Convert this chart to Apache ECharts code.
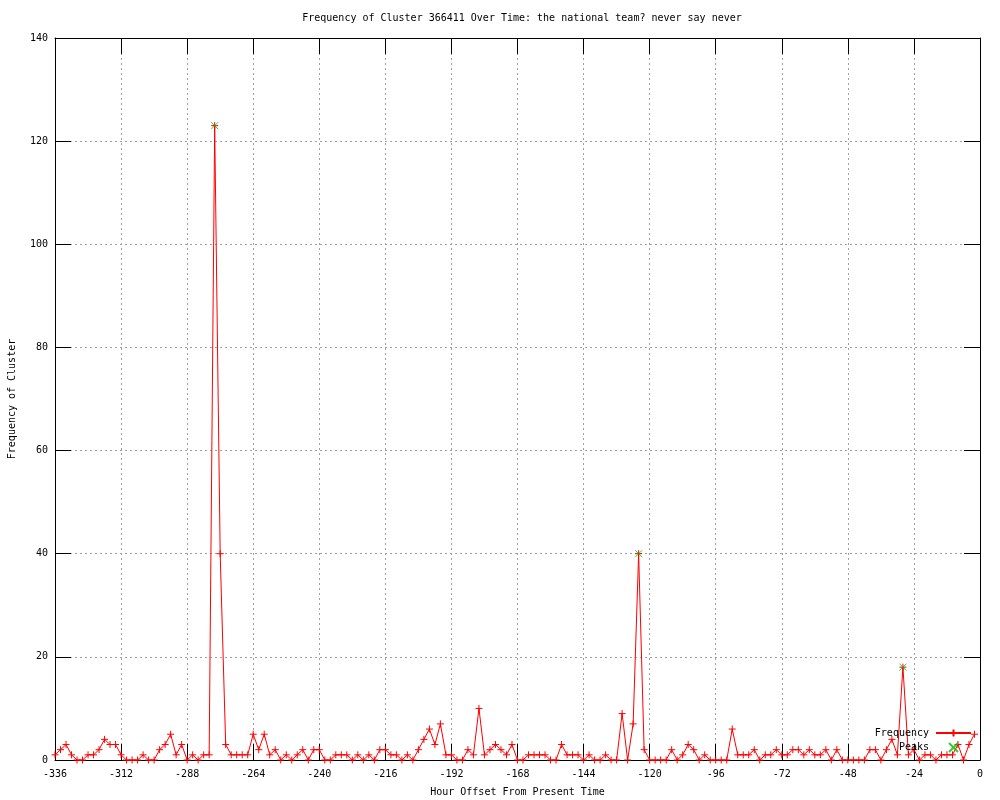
<!DOCTYPE html>
<html>
<head>
<meta charset="utf-8">
<script src="https://cdn.jsdelivr.net/npm/echarts@6/dist/echarts.min.js"></script>
<style>html,body{margin:0;padding:0;background:#fff;}#c{width:1000px;height:800px;}</style>
</head>
<body>
<div id="c"></div>
<script>
const hours = [
-336,-334,-332,-330,-328,-326,-324,-322,-320,-318,
-316,-314,-312,-310,-308,-306,-304,-302,-300,-298,
-296,-294,-292,-290,-288,-286,-284,-282,-280,-278,
-276,-274,-272,-270,-268,-266,-264,-262,-260,-258,
-256,-254,-252,-250,-248,-246,-244,-242,-240,-238,
-236,-234,-232,-230,-228,-226,-224,-222,-220,-218,
-216,-214,-212,-210,-208,-206,-204,-202,-200,-198,
-196,-194,-192,-190,-188,-186,-184,-182,-180,-178,
-176,-174,-172,-170,-168,-166,-164,-162,-160,-158,
-156,-154,-152,-150,-148,-146,-144,-142,-140,-138,
-136,-134,-132,-130,-128,-126,-124,-122,-120,-118,
-116,-114,-112,-110,-108,-106,-104,-102,-100,-98,
-96,-94,-92,-90,-88,-86,-84,-82,-80,-78,
-76,-74,-72,-70,-68,-66,-64,-62,-60,-58,
-56,-54,-52,-50,-48,-46,-44,-42,-40,-38,
-36,-34,-32,-30,-28,-26,-24,-22,-20,-18,
-16,-14,-12,-10,-8,-6,-4,-2];
const frequency = [
1,2,3,1,0,0,1,1,2,4,
3,3,1,0,0,0,1,0,0,2,
3,5,1,3,0,1,0,1,1,123,
40,3,1,1,1,1,5,2,5,1,
2,0,1,0,1,2,0,2,2,0,
0,1,1,1,0,1,0,1,0,2,
2,1,1,0,1,0,2,4,6,3,
7,1,1,0,0,2,1,10,1,2,
3,2,1,3,0,0,1,1,1,1,
0,0,3,1,1,1,0,1,0,0,
1,0,0,9,0,7,40,2,0,0,
0,0,2,0,1,3,2,0,1,0,
0,0,0,6,1,1,1,2,0,1,
1,2,1,1,2,2,1,2,1,1,
2,0,2,0,0,0,0,0,2,2,
0,2,4,1,18,1,2,0,1,1,
0,1,1,1,3,0,3,5];
const peakHours = [-278, -124, -28];
const peakValues = [123, 40, 18];
const xTicks = [-336,-312,-288,-264,-240,-216,-192,-168,-144,-120,-96,-72,-48,-24,0];
const yTicks = [0,20,40,60,80,100,120,140];

const FONT = 'DejaVu Sans Mono';
const plusSym = 'path://M5,0L5,10M0,5L10,5';
const xSym = 'path://M0,0L10,10M10,0L0,10';

const chart = echarts.init(document.getElementById('c'), null, {renderer: 'canvas'});
const gridLine = {show: true, lineStyle: {color: '#a0a0a0', width: 1, type: [2, 3]}};
const tick = {show: true, inside: true, length: 16, lineStyle: {color: '#000', width: 1}};
const axLine = {show: true, onZero: false, lineStyle: {color: '#000', width: 1}};
const lbl = {color: '#000', fontFamily: FONT, fontSize: 10};

chart.setOption({
  animation: false,
  backgroundColor: '#fff',
  title: {
    text: 'Frequency of Cluster 366411 Over Time: the national team? never say never',
    left: 517, top: 8, textAlign: 'center',
    textStyle: {color: '#000', fontFamily: FONT, fontSize: 10, fontWeight: 'normal'}
  },
  grid: {left: 55, right: 20, top: 38, bottom: 40, containLabel: false, outerBoundsMode: 'none'},
  legend: {
    orient: 'vertical', align: 'right', right: 28, top: 728, padding: 0,
    itemWidth: 35, itemHeight: 9, itemGap: 4,
    textStyle: {color: '#000', fontFamily: FONT, fontSize: 10, padding: [0, 2, 0, 0]},
    data: ['Frequency', 'Peaks'],
    selectedMode: false
  },
  xAxis: [{
    type: 'value', min: -336, max: 0, interval: 24, position: 'bottom',
    axisLine: axLine, axisTick: tick, splitLine: gridLine,
    axisLabel: Object.assign({margin: 9, formatter: v => xTicks.includes(v) ? String(v) : ''}, lbl),
    name: 'Hour Offset From Present Time', nameLocation: 'middle', nameGap: 27,
    nameTextStyle: {color: '#000', fontFamily: FONT, fontSize: 10}
  }, {
    type: 'value', min: -336, max: 0, interval: 24, position: 'top',
    axisLine: axLine, axisTick: tick, splitLine: {show: false}, axisLabel: {show: false}
  }],
  yAxis: [{
    type: 'value', min: 0, max: 140, interval: 20, position: 'left',
    axisLine: axLine, axisTick: tick, splitLine: gridLine,
    axisLabel: Object.assign({margin: 7, formatter: v => yTicks.includes(v) ? String(v) : ''}, lbl),
    name: 'Frequency of Cluster', nameLocation: 'middle', nameGap: 38, nameRotate: 90,
    nameTextStyle: {color: '#000', fontFamily: FONT, fontSize: 10}
  }, {
    type: 'value', min: 0, max: 140, interval: 20, position: 'right',
    axisLine: axLine, axisTick: tick, splitLine: {show: false}, axisLabel: {show: false}
  }],
  series: [{
    name: 'Frequency', type: 'line',
    data: hours.map((h, i) => [h, frequency[i]]),
    symbol: plusSym, symbolSize: 7, showAllSymbol: true,
    lineStyle: {color: '#ff0000', width: 1},
    itemStyle: {color: '#ff0000', borderColor: '#ff0000', borderWidth: 1},
    emphasis: {disabled: true}, z: 3, clip: false
  }, {
    name: 'Peaks', type: 'scatter',
    data: peakHours.map((h, i) => [h, peakValues[i]]),
    symbol: xSym, symbolSize: 7,
    itemStyle: {color: '#00c000', borderColor: '#00c000', borderWidth: 1},
    emphasis: {disabled: true}, z: 4
  }]
});
</script>
</body>
</html>
